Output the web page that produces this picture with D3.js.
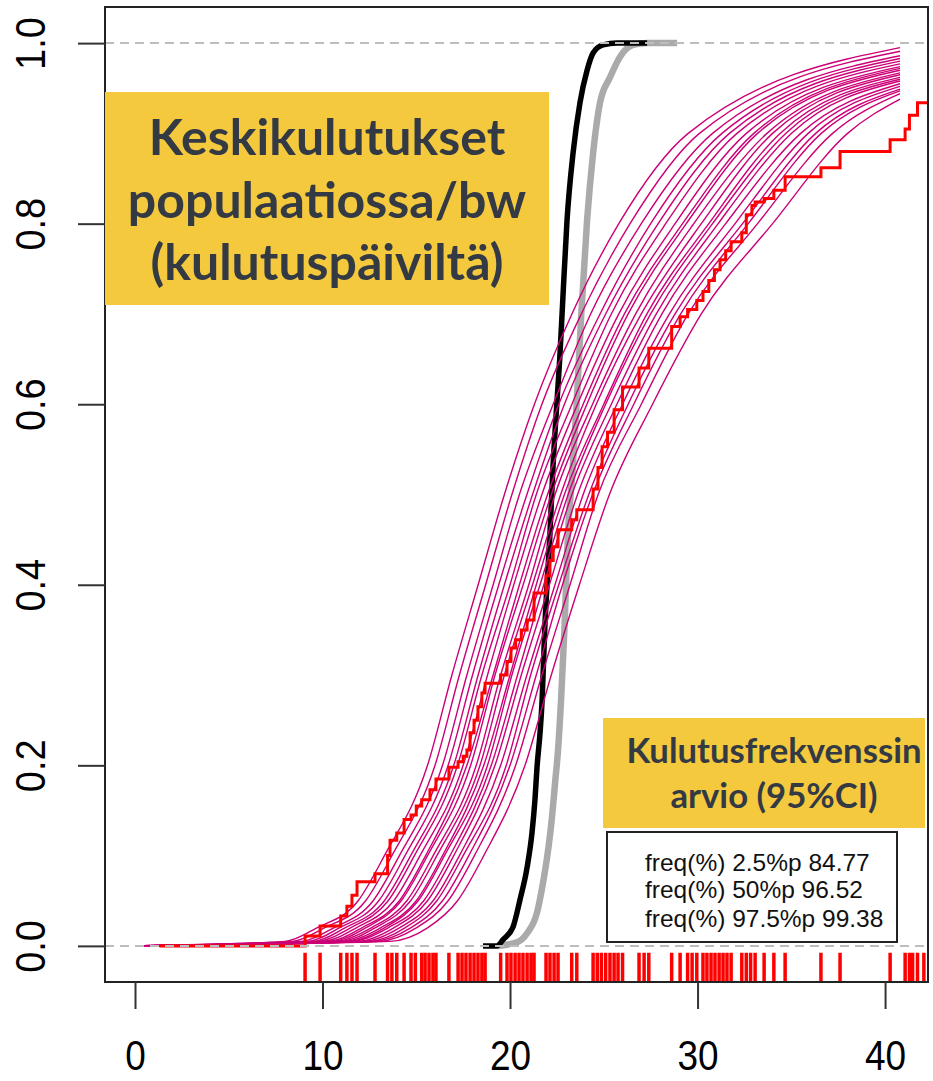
<!DOCTYPE html>
<html lang="fi">
<head>
<meta charset="utf-8">
<title>Keskikulutukset populaatiossa/bw</title>
<script src="https://cdn.jsdelivr.net/npm/d3@7"></script>
<style>
  body { margin: 0; background: #fff; }
  svg { display: block; }
</style>
</head>
<body>
<div id="chart"></div>
<script>
var curveLevels = [0.005, 0.02, 0.05, 0.1, 0.2, 0.3, 0.4, 0.5, 0.6, 0.7, 0.8, 0.9];
var curveEndX = 40.8;
// x of each simulated curve at the levels above
var curveX = [
  [8.0, 9.7, 11.9, 13.3, 15.6, 16.9, 18.3, 19.7, 21.3, 23.3, 25.8, 29.5],
  [8.4, 10.1, 12.3, 13.7, 16.0, 17.3, 18.7, 20.1, 21.7, 23.8, 26.4, 30.1],
  [8.8, 10.6, 12.7, 14.1, 16.4, 17.7, 19.1, 20.5, 22.3, 24.3, 27.0, 30.8],
  [9.2, 10.9, 13.0, 14.4, 16.7, 18.0, 19.4, 20.9, 22.6, 24.8, 27.5, 31.3],
  [9.5, 11.2, 13.3, 14.7, 17.0, 18.3, 19.7, 21.2, 22.9, 25.1, 27.9, 31.7],
  [9.7, 11.5, 13.5, 14.9, 17.2, 18.5, 20.0, 21.4, 23.3, 25.4, 28.3, 32.1],
  [10.0, 11.8, 13.8, 15.2, 17.5, 18.8, 20.2, 21.7, 23.6, 25.8, 28.8, 32.6],
  [10.3, 12.1, 14.1, 15.5, 17.7, 19.1, 20.5, 22.0, 23.9, 26.1, 29.2, 33.0],
  [10.5, 12.3, 14.2, 15.6, 17.9, 19.2, 20.7, 22.2, 24.1, 26.3, 29.4, 33.2],
  [10.7, 12.6, 14.5, 15.9, 18.2, 19.5, 21.0, 22.4, 24.4, 26.7, 29.8, 33.7],
  [11.0, 12.8, 14.7, 16.1, 18.4, 19.7, 21.2, 22.7, 24.6, 27.0, 30.2, 34.0],
  [11.2, 13.1, 15.0, 16.4, 18.6, 20.0, 21.4, 22.9, 25.0, 27.3, 30.6, 34.4],
  [11.4, 13.3, 15.1, 16.5, 18.8, 20.1, 21.6, 23.1, 25.1, 27.5, 30.8, 34.7],
  [11.6, 13.5, 15.4, 16.8, 19.0, 20.4, 21.8, 23.3, 25.4, 27.8, 31.1, 35.0],
  [11.9, 13.8, 15.6, 17.0, 19.2, 20.6, 22.1, 23.6, 25.7, 28.1, 31.5, 35.5],
  [12.2, 14.1, 15.9, 17.3, 19.5, 20.9, 22.4, 23.9, 26.0, 28.5, 32.0, 35.9],
  [12.5, 14.4, 16.1, 17.5, 19.8, 21.1, 22.6, 24.2, 26.3, 28.8, 32.4, 36.3],
  [12.7, 14.7, 16.4, 17.8, 20.0, 21.4, 22.8, 24.4, 26.6, 29.1, 32.7, 36.6],
  [13.0, 15.0, 16.7, 18.1, 20.3, 21.7, 23.2, 24.7, 27.0, 29.5, 33.2, 37.2],
  [13.6, 15.6, 17.2, 18.6, 20.8, 22.2, 23.7, 25.3, 27.6, 30.2, 34.0, 38.0]
];
// level each pink curve reaches at its right end
var curveEndY = [0.995, 0.991, 0.986, 0.983, 0.980, 0.977, 0.974, 0.972, 0.970, 0.967,
                 0.965, 0.962, 0.960, 0.958, 0.955, 0.952, 0.949, 0.947, 0.944, 0.938];

// thick black and grey curves
var blackX = [18.56, 19.31, 19.63, 20.16, 20.53, 20.91, 21.17, 21.33, 21.44, 21.6, 21.71, 21.85,
              22.13, 22.29, 22.51, 22.65, 22.8, 23.04, 23.36, 23.73, 24.11, 24.43, 24.96, 25.71, 27.31];
var blackY = [0, 0, 0.007, 0.021, 0.051, 0.087, 0.125, 0.162, 0.198, 0.236, 0.272, 0.35,
              0.457, 0.53, 0.605, 0.65, 0.71, 0.804, 0.878, 0.934, 0.97, 0.989, 0.998, 1, 1];
var greyX = [19.31, 20.37, 20.91, 21.44, 21.76, 22.03, 22.24, 22.4, 22.56, 22.72, 22.9, 23.09,
             23.31, 23.55, 23.8, 24.11, 24.43, 24.8, 25.33, 25.87, 26.56, 27.31, 28.91];
var greyY = [0, 0.004, 0.014, 0.037, 0.07, 0.106, 0.143, 0.18, 0.217, 0.272, 0.35, 0.457,
             0.52, 0.6, 0.7, 0.804, 0.878, 0.934, 0.962, 0.985, 0.998, 1, 1];

// red empirical step curve
var stepX = [1.3, 9.07, 9.87, 10.97, 11.3, 11.57, 11.84, 12.8, 13.47, 13.6, 13.96, 14.35, 14.72, 15.0,
             15.29, 15.73, 16.05, 16.74, 17.23, 17.5, 17.7, 17.87, 18.08, 18.29, 18.5, 18.67, 19.5,
             19.84, 20.05, 20.3, 20.6, 20.91, 21.28, 21.92, 22.13, 22.3, 22.56, 23.29, 23.56, 24.43,
             24.69, 24.91, 25.2, 25.55, 26.0, 26.88, 27.4, 28.62, 29.07, 29.47, 29.96, 30.29, 30.6,
             30.9, 31.2, 31.5, 31.79, 32.36, 32.6, 32.9, 33.07, 33.55, 34.07, 34.67, 36.58, 37.6,
             40.27, 41.07, 41.3, 41.73];
var stepY = [0, 0.011, 0.022, 0.033, 0.044, 0.056, 0.071, 0.080, 0.100, 0.117, 0.125, 0.140, 0.145, 0.155,
             0.162, 0.173, 0.185, 0.198, 0.204, 0.210, 0.217, 0.236, 0.250, 0.265, 0.280, 0.291, 0.300,
             0.315, 0.330, 0.339, 0.350, 0.361, 0.391, 0.41, 0.427, 0.442, 0.461, 0.472, 0.483, 0.506,
             0.530, 0.553, 0.569, 0.594, 0.619, 0.640, 0.662, 0.686, 0.697, 0.705, 0.715, 0.725, 0.737,
             0.749, 0.760, 0.770, 0.780, 0.790, 0.810, 0.820, 0.824, 0.828, 0.837, 0.852, 0.862, 0.880,
             0.893, 0.905, 0.920, 0.934];

// observations shown as a rug
var rugX = [9.07, 9.87, 10.97, 11.3, 11.57, 11.84, 12.8, 13.47, 13.7, 13.96, 14.35, 14.72, 14.95, 15.29,
            15.47, 15.68, 15.89, 16.05, 16.74, 17.23, 17.44, 17.65, 17.87, 18.08, 18.29, 18.5, 18.67,
            19.5, 19.84, 20.05, 20.27, 20.48, 20.69, 20.91, 21.12, 21.28, 21.92, 22.13, 22.35, 22.56,
            23.29, 23.56, 24.43, 24.65, 24.87, 25.1, 25.33, 25.55, 25.76, 26.0, 26.88, 27.15, 27.4,
            28.62, 29.07, 29.47, 29.71, 29.96, 30.29, 30.5, 30.72, 30.93, 31.15, 31.36, 31.57, 31.79,
            32.36, 32.6, 32.83, 33.07, 33.55, 34.07, 34.67, 36.58, 37.6, 40.27, 41.07, 41.3, 41.47,
            41.73, 42.07];

var xTicks = [0, 10, 20, 30, 40];
var yTicks = [0, 0.2, 0.4, 0.6, 0.8, 1.0];

var titleLines = ["Keskikulutukset", "populaatiossa/bw", "(kulutuspäiviltä)"];
var noteLines = ["Kulutusfrekvenssin", "arvio (95%CI)"];
var legendLines = ["freq(%) 2.5%p 84.77", "freq(%) 50%p 96.52", "freq(%) 97.5%p 99.38"];

var width = 933, height = 1081;
var plot = {left: 105, right: 928, top: 7, bottom: 982};

var svg = d3.select("#chart").append("svg")
    .attr("width", width)
    .attr("height", height)
    .style("background", "#fff");

var x = d3.scaleLinear().domain([-1.6, 42.29]).range([plot.left, plot.right]);
var y = d3.scaleLinear().domain([-0.04, 1.04]).range([plot.bottom, plot.top]);

svg.append("clipPath").attr("id", "plotClip")
  .append("rect")
    .attr("x", plot.left).attr("y", plot.top)
    .attr("width", plot.right - plot.left)
    .attr("height", plot.bottom - plot.top);

var g = svg.append("g").attr("clip-path", "url(#plotClip)");

var smooth = d3.line()
    .x(function(d) { return x(d[0]); })
    .y(function(d) { return y(d[1]); })
    .curve(d3.curveMonotoneX);

// grey and black thick curves
g.append("path")
    .datum(d3.zip(greyX, greyY))
    .attr("d", smooth)
    .attr("fill", "none")
    .attr("stroke", "#aaaaaa")
    .attr("stroke-width", 6.5);

g.append("path")
    .datum(d3.zip(blackX, blackY))
    .attr("d", smooth)
    .attr("fill", "none")
    .attr("stroke", "#000")
    .attr("stroke-width", 5.5);

// pink curves
var curves = curveX.map(function(row, i) {
    var pts = [[0, 0]];
    row.forEach(function(v, j) { pts.push([v, curveLevels[j]]); });
    pts.push([curveEndX, curveEndY[i]]);
    return pts;
});

g.selectAll("path.sim")
    .data(curves)
    .enter().append("path")
    .attr("class", "sim")
    .attr("d", smooth)
    .attr("fill", "none")
    .attr("stroke", "#cc0077")
    .attr("stroke-width", 1.4);

// red step curve
var stepPts = d3.zip(stepX, stepY);
stepPts.push([x.domain()[1], stepY[stepY.length - 1]]);
g.append("path")
    .datum(stepPts)
    .attr("d", d3.line()
        .x(function(d) { return x(d[0]); })
        .y(function(d) { return y(d[1]); })
        .curve(d3.curveStepAfter))
    .attr("fill", "none")
    .attr("stroke", "#ff0000")
    .attr("stroke-width", 3);

// rug
var rugLen = 0.03 * (plot.bottom - plot.top);
g.selectAll("line.rug")
    .data(rugX)
    .enter().append("line")
    .attr("class", "rug")
    .attr("x1", function(d) { return x(d); })
    .attr("x2", function(d) { return x(d); })
    .attr("y1", plot.bottom)
    .attr("y2", plot.bottom - rugLen)
    .attr("stroke", "#ff0000")
    .attr("stroke-width", 3.5);

// dashed reference lines at 0 and 1
g.selectAll("line.ref")
    .data([0, 1])
    .enter().append("line")
    .attr("class", "ref")
    .attr("x1", plot.left).attr("x2", plot.right)
    .attr("y1", function(d) { return y(d); })
    .attr("y2", function(d) { return y(d); })
    .attr("stroke", "#bdbdbd")
    .attr("stroke-width", 2)
    .attr("stroke-dasharray", "9,6");

// frame
svg.append("rect")
    .attr("x", plot.left).attr("y", plot.top)
    .attr("width", plot.right - plot.left)
    .attr("height", plot.bottom - plot.top)
    .attr("fill", "none")
    .attr("stroke", "#222")
    .attr("stroke-width", 2);

// axes
var xAxis = svg.append("g")
    .attr("transform", "translate(0," + plot.bottom + ")")
    .call(d3.axisBottom(x).tickValues(xTicks).tickSize(27).tickFormat(d3.format("d")));
xAxis.select(".domain").remove();
xAxis.selectAll(".tick line").attr("stroke", "#333").attr("stroke-width", 2);
xAxis.selectAll(".tick text")
    .attr("y", 88).attr("dy", 0)
    .attr("transform", "scale(0.88,1)")
    .style("font-family", "'Liberation Sans', Arial, sans-serif")
    .style("font-size", "42px")
    .attr("fill", "#000");

var yAxis = svg.append("g")
    .attr("transform", "translate(" + plot.left + ",0)")
    .call(d3.axisLeft(y).tickValues(yTicks).tickSize(27).tickFormat(d3.format(".1f")));
yAxis.select(".domain").remove();
yAxis.selectAll(".tick line").attr("stroke", "#333").attr("stroke-width", 2);
yAxis.selectAll(".tick text")
    .attr("x", 0).attr("dy", 0)
    .attr("text-anchor", "middle")
    .attr("transform", "translate(-60,0) rotate(-90) scale(0.88,1)")
    .style("font-family", "'Liberation Sans', Arial, sans-serif")
    .style("font-size", "43px")
    .attr("fill", "#000");

// yellow annotation boxes
function noteBox(x0, y0, w, h, lines, cx, baselines, targetW) {
    svg.append("rect")
        .attr("x", x0).attr("y", y0)
        .attr("width", w).attr("height", h)
        .attr("fill", "#f5c93e");
    var t = svg.selectAll(null)
        .data(lines)
        .enter().append("text")
        .attr("x", cx)
        .attr("y", function(d, i) { return baselines[i]; })
        .attr("text-anchor", "middle")
        .style("font-family", "Lato, 'Open Sans', sans-serif")
        .style("font-weight", "bold")
        .style("font-size", "40px")
        .attr("fill", "#343a44")
        .text(function(d) { return d; });
    // fit font size to the widths seen in the picture
    var ratio = 0;
    t.each(function(d, i) { ratio += targetW[i] / this.getComputedTextLength(); });
    t.style("font-size", (40 * ratio / lines.length) + "px");
}

noteBox(105, 92, 444, 213, titleLines, 327, [155, 218, 280], [353, 398, 357]);
noteBox(603, 718, 322, 110, noteLines, 774, [763, 808], [294, 208]);

// legend box
svg.append("rect")
    .attr("x", 607).attr("y", 832)
    .attr("width", 290).attr("height", 110)
    .attr("fill", "#fff")
    .attr("stroke", "#222")
    .attr("stroke-width", 2);

svg.selectAll("text.leg")
    .data(legendLines)
    .enter().append("text")
    .attr("class", "leg")
    .attr("x", 645)
    .attr("y", function(d, i) { return [871, 898, 927][i]; })
    .style("font-family", "'Liberation Sans', Arial, sans-serif")
    .style("font-size", "24.5px")
    .attr("fill", "#111")
    .text(function(d) { return d; });
</script>
</body>
</html>
